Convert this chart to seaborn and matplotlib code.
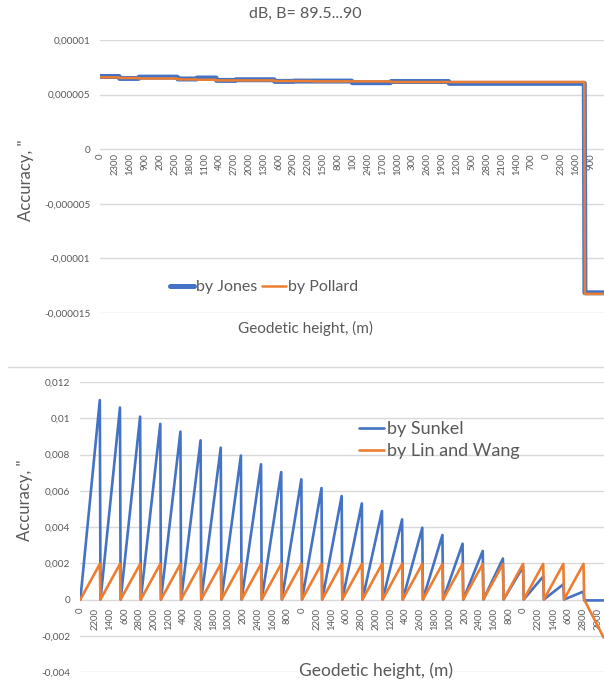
import pandas as pd
import matplotlib
matplotlib.use("Agg")
import matplotlib.pyplot as plt
import seaborn as sns
from matplotlib.lines import Line2D

# geodetic heights of one latitude block (m), repeated along the x axis for every B step
heights = [0, 100, 200, 300, 400, 500, 600, 700, 800, 900,
           1000, 1100, 1200, 1300, 1400, 1500, 1600, 1700, 1800, 1900,
           2000, 2100, 2200, 2300, 2400, 2500, 2600, 2700, 2800, 2900]
n_blocks = 26  # B = 89.5 ... 90

# top chart: dB level of each latitude block (arc seconds)
jones = [6.66e-6, 6.48e-6, 6.60e-6, 6.60e-6, 6.43e-6, 6.52e-6, 6.30e-6, 6.36e-6, 6.36e-6,
         6.21e-6, 6.24e-6, 6.24e-6, 6.24e-6, 6.09e-6, 6.09e-6, 6.20e-6, 6.20e-6, 6.20e-6,
         6.03e-6, 6.03e-6, 6.03e-6, 6.03e-6, 6.03e-6, 6.03e-6, 6.03e-6, -13.15e-6]
pollard = [6.58e-6, 6.52e-6, 6.48e-6, 6.48e-6, 6.39e-6, 6.36e-6, 6.30e-6, 6.30e-6, 6.30e-6,
           6.24e-6, 6.24e-6, 6.21e-6, 6.21e-6, 6.21e-6, 6.21e-6, 6.15e-6, 6.15e-6, 6.15e-6,
           6.15e-6, 6.15e-6, 6.15e-6, 6.15e-6, 6.15e-6, 6.15e-6, 6.15e-6, -13.25e-6]

# bottom chart: value at h = 0 and at h = 2900 of each latitude block
sunkel_h0 = [0] * 25 + [-0.00005]
sunkel_top = [0.0110, 0.01059, 0.01009, 0.00969, 0.00926, 0.00878, 0.00838, 0.00794,
              0.00746, 0.00703, 0.00663, 0.00615, 0.00571, 0.0053, 0.00488, 0.00442,
              0.00396, 0.00356, 0.00308, 0.00268, 0.00226, 0.0018, 0.00127, 0.00084,
              0.00044, -0.00005]
linwang_h0 = [0] * 26
linwang_top = [0.00196] * 25 + [-0.0021]

top_ticks = [-0.000015, -0.00001, -0.000005, 0, 0.000005, 0.00001]
top_ticklabels = ["-0,000015", "-0,00001", "-0,000005", "0", "0,000005", "0,00001"]
bot_ticks = [-0.004, -0.002, 0, 0.002, 0.004, 0.006, 0.008, 0.01, 0.012]
bot_ticklabels = ["-0,004", "-0,002", "0", "0,002", "0,004", "0,006", "0,008", "0,01", "0,012"]

BLUE = "#4472C4"
ORANGE = "#ED7D31"
GREY = "#595959"
GRID = "#d9d9d9"


def block_frame(h0_vals, top_vals):
    # one row at the first and one at the last height of every block
    rows = []
    nh = len(heights)
    for b, (v0, v1) in enumerate(zip(h0_vals, top_vals)):
        rows.append((b * nh, v0))
        rows.append((b * nh + nh - 1, v1))
    return pd.DataFrame(rows, columns=["pos", "value"])


sns.set_theme(style="white")
plt.rcParams["font.family"] = ["Lato", "DejaVu Sans"]

W, H = 604, 684
fig = plt.figure(figsize=(W / 100, H / 100), dpi=100)
n_cat = n_blocks * len(heights)

# ---------------- top chart ----------------
ax1 = fig.add_axes([100 / W, (H - 313) / H, 504 / W, 273 / H])
sns.lineplot(data=block_frame(jones, jones), x="pos", y="value", ax=ax1,
             color=BLUE, linewidth=3.6, label="by Jones", sort=False, estimator=None)
sns.lineplot(data=block_frame(pollard, pollard), x="pos", y="value", ax=ax1,
             color=ORANGE, linewidth=1.8, label="by Pollard", sort=False, estimator=None)
ax1.set_xlim(-0.5, n_cat - 0.5)
ax1.set_ylim(-0.000015, 0.00001)
ax1.set_yticks(top_ticks)
ax1.set_yticklabels(top_ticklabels)
xt = list(range(0, n_cat, 23))
ax1.set_xticks(xt)
ax1.set_xticklabels([heights[i % len(heights)] for i in xt])
ax1.spines["bottom"].set_position(("data", 0))

ax1.legend(loc="center", bbox_to_anchor=(264 / W, (H - 287) / H), bbox_transform=fig.transFigure,
           ncol=2, frameon=False, fontsize=11.5, handlelength=1.5, handletextpad=0.15,
           columnspacing=0.25, borderpad=0, labelcolor=GREY)

# ---------------- bottom chart ----------------
ax2 = fig.add_axes([80 / W, (H - 672) / H, 524 / W, 290 / H])
sns.lineplot(data=block_frame(sunkel_h0, sunkel_top), x="pos", y="value", ax=ax2,
             color=BLUE, linewidth=1.9, label="by Sunkel", sort=False, estimator=None)
sns.lineplot(data=block_frame(linwang_h0, linwang_top), x="pos", y="value", ax=ax2,
             color=ORANGE, linewidth=1.9, label="by Lin and Wang", sort=False, estimator=None)
ax2.set_xlim(-0.5, n_cat - 0.5)
ax2.set_ylim(-0.004, 0.012)
ax2.set_yticks(bot_ticks)
ax2.set_yticklabels(bot_ticklabels)
xt = list(range(0, n_cat, 22))
ax2.set_xticks(xt)
ax2.set_xticklabels([heights[i % len(heights)] for i in xt])
ax2.spines["bottom"].set_position(("data", 0))

ax2.legend(loc="center left", bbox_to_anchor=(359 / W, (H - 440) / H), bbox_transform=fig.transFigure,
           frameon=False, fontsize=13, handlelength=1.4, handletextpad=0.15,
           labelspacing=0.35, borderpad=0, borderaxespad=0, labelcolor=GREY)

for ax, xpad in ((ax1, 3), (ax2, 6)):
    for s in ax.spines.values():
        s.set_visible(False)
    ax.grid(axis="y", color=GRID, linewidth=1)
    ax.grid(axis="x", visible=False)
    ax.set_axisbelow(True)
    ax.set_xlabel("")
    ax.set_ylabel("")
    ax.tick_params(axis="y", length=0, pad=7, labelsize=7.2, labelcolor=GREY)
    ax.tick_params(axis="x", length=0, pad=xpad, labelsize=6.8, labelcolor=GREY, labelrotation=90)
    ax.patch.set_alpha(0)

# texts
fig.text(305 / W, (H - 14) / H, "dB, B= 89.5...90", ha="center", va="center", fontsize=11.5, color=GREY)
fig.text(305 / W, (H - 328) / H, "Geodetic height, (m)", ha="center", va="center", fontsize=11, color=GREY)
fig.text(376 / W, (H - 671) / H, "Geodetic height, (m)", ha="center", va="center", fontsize=12.5,
         color=GREY, bbox=dict(facecolor="white", edgecolor="none", pad=1))
fig.text(26 / W, (H - 180) / H, 'Accuracy, "', ha="center", va="center", rotation=90,
         fontsize=12, color=GREY)
fig.text(25 / W, (H - 500) / H, 'Accuracy, "', ha="center", va="center", rotation=90,
         fontsize=12, color=GREY)

# border line of the lower chart area
fig.add_artist(Line2D([8 / W, 1], [(H - 367) / H] * 2, color=GRID, linewidth=1))

fig.savefig("out.png", dpi=100)
